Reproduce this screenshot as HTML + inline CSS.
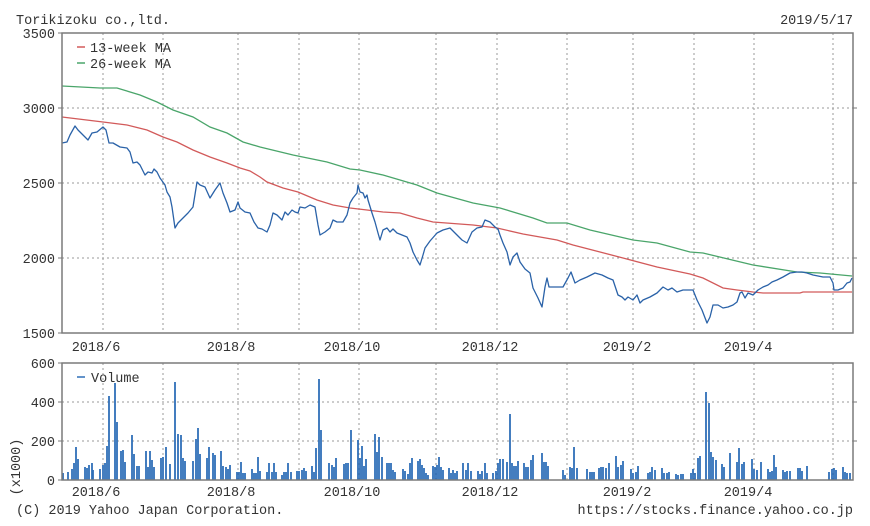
<!DOCTYPE html>
<html><head><meta charset="utf-8">
<style>
html,body{margin:0;padding:0;background:#fff;}
svg{display:block;}
text{font-family:"Liberation Mono",monospace;font-size:13.5px;fill:#333;}
</style></head>
<body>
<svg width="870" height="526" viewBox="0 0 870 526" xmlns="http://www.w3.org/2000/svg">
<rect width="870" height="526" fill="#fff"/>
<!-- titles -->
<text x="16" y="24">Torikizoku co.,ltd.</text>
<text x="853" y="24" text-anchor="end">2019/5/17</text>

<!-- main grid -->
<g stroke="#9a9a9a" stroke-width="1" stroke-dasharray="2,3" fill="none">
<path d="M62 108H853M62 183H853M62 258H853"/>
<path d="M103 33V333M163 33V333M238 33V333M299 33V333M359 33V333M436 33V333M497 33V333M567 33V333M633 33V333M694 33V333M754 33V333M833 33V333"/>
<path d="M62 402H853M62 441H853"/>
<path d="M103 363V480M163 363V480M238 363V480M299 363V480M359 363V480M436 363V480M497 363V480M567 363V480M633 363V480M694 363V480M754 363V480M833 363V480"/>
</g>

<!-- MA26 -->
<polyline fill="none" stroke="#4aa56a" stroke-width="1.3" points="62,86 100,88 117,88 140,95 157,102 173,110 193,117 210,127 227,133 243,142 260,147 293,155 327,162 350,169 360,170 383,175 417,185 437,193 473,203 500,208 533,218 547,223 567,223 590,230 633,240 657,243 690,252 703,253 753,265 797,272 820,273 852,276"/>
<!-- MA13 -->
<polyline fill="none" stroke="#d25a5a" stroke-width="1.3" points="62,117 103,122 127,125 147,130 163,137 177,142 193,150 210,157 227,163 240,168 250,171 260,177 267,182 283,188 298,192 317,200 333,205 350,208 367,210 383,212 400,213 417,218 433,222 473,225 497,228 523,234 557,240 573,245 600,252 623,258 657,267 690,274 703,278 723,288 737,290 753,292 763,293 800,293 803,292 852,292"/>
<!-- price -->
<polyline fill="none" stroke="#2a62a8" stroke-width="1.3" stroke-linejoin="round" points="62,143 67,142 70,135 75,126 78,130 83,135 88,140 92,133 97,132 103,127 106,130 109,143 113,143 120,147 127,148 130,152 133,163 137,162 140,165 145,175 148,172 152,173 154,169 157,172 160,178 165,185 167,192 170,197 172,207 175,228 178,223 183,218 188,213 193,207 197,182 200,185 205,187 210,198 215,190 220,183 223,193 227,203 230,212 235,210 238,202 240,208 245,212 250,213 254,222 258,228 262,229 267,232 270,225 273,213 277,215 282,220 285,212 288,215 292,210 295,212 298,213 300,207 305,208 310,205 315,207 318,225 320,235 325,232 330,228 333,220 337,222 343,222 347,215 350,203 353,198 357,193 358,185 360,192 363,193 365,198 367,195 368,200 372,213 375,222 378,233 380,240 383,230 387,228 390,232 393,229 397,233 402,235 407,237 410,243 413,252 417,260 420,265 423,255 425,248 430,241 437,233 443,230 450,228 457,235 462,240 467,243 472,232 477,228 482,227 485,220 490,222 495,227 498,229 500,235 503,243 507,252 510,265 513,257 517,253 520,262 525,269 530,273 533,288 538,298 542,307 545,287 547,278 549,287 563,287 568,278 571,272 575,283 580,280 587,277 595,273 602,275 608,278 613,280 618,295 622,297 625,300 628,297 633,300 637,295 640,303 643,300 650,297 657,293 663,287 668,290 672,288 677,292 683,290 690,290 693,290 697,300 702,310 707,323 710,317 713,305 718,305 723,308 728,307 733,305 737,302 740,293 742,292 745,298 748,293 753,295 755,293 758,290 763,287 768,285 772,282 777,280 783,277 790,273 797,272 802,272 807,273 813,275 823,277 830,277 833,283 834,290 838,290 843,288 847,283 850,282 852,278"/>

<!-- volume bars -->
<path fill="none" stroke="#2f6fb8" stroke-width="1.8" d="
M63 480v-7M68 480v-8M72 480v-11M74 480v-17M76 480v-33M78 480v-21M85 480v-13M87 480v-12M89 480v-15M92 480v-17M93 480v-10
M100 480v-11M103 480v-15M105 480v-17M107 480v-34M109 480v-84M115 480v-97M117 480v-58M121 480v-29M123 480v-30M125 480v-18
M132 480v-45M134 480v-26M137 480v-14M139 480v-14M146 480v-29M148 480v-13M150 480v-29M152 480v-20M154 480v-13
M161 480v-22M163 480v-23M166 480v-33M170 480v-16M175 480v-98M178 480v-46M181 480v-45M183 480v-22M185 480v-19
M193 480v-19M196 480v-41M198 480v-52M200 480v-26M207 480v-22M209 480v-33M213 480v-27M215 480v-25M221 480v-29M223 480v-14
M226 480v-13M228 480v-11M230 480v-15M237 480v-8M239 480v-8M241 480v-18M243 480v-7M245 480v-7M252 480v-11M254 480v-7
M256 480v-7M258 480v-23M260 480v-9M267 480v-8M269 480v-17M272 480v-8M274 480v-17M276 480v-8M282 480v-5M284 480v-8
M286 480v-8M288 480v-17M291 480v-8M297 480v-9M299 480v-9M302 480v-10M304 480v-12M306 480v-9M312 480v-14M314 480v-8
M316 480v-32M319 480v-101M321 480v-50M329 480v-17M332 480v-15M334 480v-13M336 480v-22M344 480v-16M346 480v-17M348 480v-17
M351 480v-50M358 480v-40M360 480v-22M362 480v-34M364 480v-14M366 480v-21M375 480v-46M377 480v-28M379 480v-43M382 480v-23
M387 480v-17M389 480v-17M391 480v-17M393 480v-10M395 480v-8M403 480v-11M405 480v-9M408 480v-6M410 480v-17M412 480v-22
M418 480v-19M420 480v-21M422 480v-15M424 480v-12M426 480v-7M428 480v-5M433 480v-14M435 480v-13M437 480v-15M439 480v-23
M441 480v-13M443 480v-10M449 480v-12M451 480v-7M453 480v-10M455 480v-7M457 480v-9M463 480v-17M466 480v-10M468 480v-17
M471 480v-9M478 480v-9M480 480v-6M482 480v-9M485 480v-17M487 480v-7M493 480v-7M496 480v-9M498 480v-17M500 480v-21
M503 480v-21M507 480v-18M510 480v-66M512 480v-17M514 480v-14M516 480v-14M518 480v-19M524 480v-17M526 480v-13M528 480v-13
M531 480v-20M533 480v-25M542 480v-27M544 480v-18M546 480v-18M548 480v-14M563 480v-10M565 480v-5M570 480v-13M572 480v-12
M574 480v-33M577 480v-12M587 480v-11M590 480v-8M592 480v-8M594 480v-8M599 480v-12M601 480v-13M603 480v-13M606 480v-12
M609 480v-17M616 480v-24M618 480v-13M621 480v-15M623 480v-19M631 480v-11M633 480v-7M636 480v-8M638 480v-14M648 480v-7
M650 480v-8M652 480v-13M655 480v-10M662 480v-12M664 480v-7M667 480v-7M669 480v-8M676 480v-6M678 480v-5M681 480v-6M683 480v-6
M691 480v-7M693 480v-11M695 480v-7M698 480v-22M700 480v-24M706 480v-88M709 480v-77M711 480v-28M713 480v-23M716 480v-20
M722 480v-16M724 480v-13M730 480v-27M737 480v-18M739 480v-32M742 480v-16M744 480v-18M752 480v-21M754 480v-11M757 480v-10
M761 480v-18M768 480v-11M770 480v-8M772 480v-9M774 480v-25M776 480v-13M783 480v-10M785 480v-8M787 480v-9M790 480v-9
M798 480v-12M800 480v-12M802 480v-9M807 480v-14M829 480v-8M832 480v-11M834 480v-12M836 480v-10M843 480v-13M845 480v-8
M847 480v-7M850 480v-7"/>

<!-- borders -->
<rect x="62" y="33" width="791" height="300" fill="none" stroke="#7a7a7a" stroke-width="1.5"/>
<rect x="62" y="363" width="791" height="117" fill="none" stroke="#7a7a7a" stroke-width="1.5"/>
<g stroke="#7a7a7a" stroke-width="1">
<path d="M58 33H62M58 108H62M58 183H62M58 258H62M58 333H62M853 108H857M853 183H857M853 258H857"/>
<path d="M58 363H62M58 402H62M58 441H62M58 480H62M853 402H857M853 441H857"/>
</g>

<!-- legends -->
<path d="M77 47H85" stroke="#d25a5a" stroke-width="1.5"/>
<text x="90" y="52">13-week MA</text>
<path d="M77 63H85" stroke="#4aa56a" stroke-width="1.5"/>
<text x="90" y="68">26-week MA</text>
<path d="M77 377H85" stroke="#2f6fb8" stroke-width="1.5"/>
<text x="91" y="382">Volume</text>

<!-- y labels -->
<g text-anchor="end">
<text x="55" y="38">3500</text>
<text x="55" y="113">3000</text>
<text x="55" y="188">2500</text>
<text x="55" y="263">2000</text>
<text x="55" y="338">1500</text>
<text x="55" y="368">600</text>
<text x="55" y="407">400</text>
<text x="55" y="446">200</text>
<text x="55" y="485">0</text>
</g>
<text transform="translate(20,467) rotate(-90)" text-anchor="middle">(x1000)</text>

<!-- x labels -->
<g text-anchor="middle">
<text x="96" y="351">2018/6</text>
<text x="231" y="351">2018/8</text>
<text x="352" y="351">2018/10</text>
<text x="490" y="351">2018/12</text>
<text x="627" y="351">2019/2</text>
<text x="748" y="351">2019/4</text>
<text x="96" y="496">2018/6</text>
<text x="231" y="496">2018/8</text>
<text x="352" y="496">2018/10</text>
<text x="490" y="496">2018/12</text>
<text x="627" y="496">2019/2</text>
<text x="748" y="496">2019/4</text>
</g>

<text x="16" y="514">(C) 2019 Yahoo Japan Corporation.</text>
<text x="853" y="514" text-anchor="end">https://stocks.finance.yahoo.co.jp</text>
</svg>
</body></html>
